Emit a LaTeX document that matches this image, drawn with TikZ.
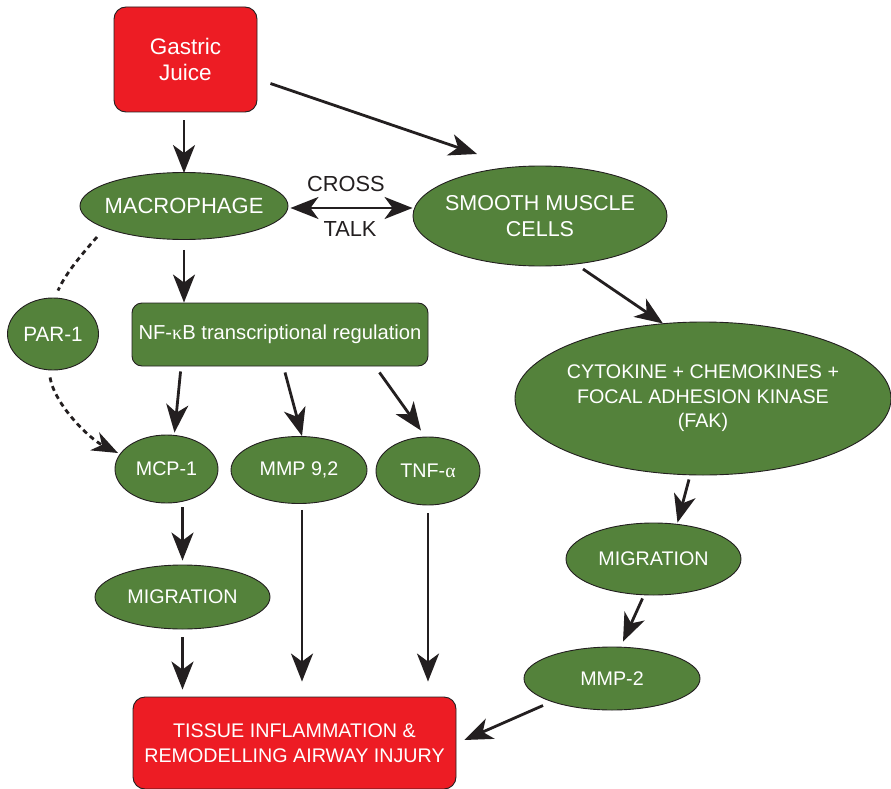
\documentclass[tikz,border=0pt]{standalone}
\usepackage{fontspec}
\setmainfont{Liberation Sans}
\newfontfamily\grk{Liberation Serif}
\usetikzlibrary{arrows.meta,shapes.geometric,calc}
\definecolor{gr}{HTML}{54823B}
\definecolor{rd}{HTML}{ED1C24}
\definecolor{ink}{HTML}{231F20}
\newcommand{\fsz}[1]{\fontsize{#1}{24.5}\selectfont}
\begin{document}
\begin{tikzpicture}[x=1pt,y=-1pt,
  every node/.style={text=white, align=center, font=\fsz{19.7}},
  every label/.style={text=white, align=center, font=\fsz{19.7}},
  ell/.style={ellipse, draw=ink, line width=0.9pt, fill=gr, inner sep=0pt},
  rbox/.style={rectangle, rounded corners=12pt, draw=ink, line width=0.9pt, inner sep=0pt},
  arr/.style={draw=ink, line width=2.8pt, -{Stealth[length=28pt, width=22pt, inset=8pt]}},
  dsh/.style={draw=ink, line width=2.8pt, dash pattern=on 5pt off 4pt},
  plain/.style={text=ink, font=\fsz{21.8}}
]
\useasboundingbox (0,0) rectangle (891,789);

% nodes
\node[rbox, fill=rd, minimum width=143pt, minimum height=105pt, font=\fsz{22.5}, text depth=0pt] (gj) at (185.5,59.5) {Gastric\\[2pt]Juice};
\node[ell, minimum width=208pt, minimum height=67pt, label={[font=\fsz{22}]center:MACROPHAGE}] (mac) at (184,206) {};
\node[ell, minimum width=254pt, minimum height=100pt, label={[font=\fsz{21.5}]center:{SMOOTH MUSCLE\\[1pt]CELLS}}] (smc) at (540,216) {};
\node[plain] (cross) at (346,184) {CROSS};
\node[plain] (talk) at (350,229) {TALK};
\node[ell, minimum width=91pt, minimum height=72pt, label={[font=\fsz{20.7}]center:PAR-1}] (par) at (53,334) {};
\node[rbox, fill=gr, rounded corners=10pt, minimum width=296pt, minimum height=63pt, font=\fsz{20.2}] (nf) at (280,334.5) {NF-{\grk κ}B transcriptional regulation};
\node[ell, minimum width=103pt, minimum height=68pt, label={center:MCP-1}] (mcp) at (166.5,469) {};
\node[ell, minimum width=136pt, minimum height=67pt, label={center:MMP 9,2}] (mmp) at (299,470) {};
\node[ell, minimum width=104pt, minimum height=68pt, label={center:TNF-{\grk α}}] (tnf) at (428,471) {};
\node[ell, minimum width=175pt, minimum height=64pt, label={center:MIGRATION}] (migL) at (182.5,597) {};
\node[rbox, fill=rd, minimum width=323pt, minimum height=92pt] (tis) at (294.5,743) {TISSUE INFLAMMATION \&\\REMODELLING AIRWAY INJURY};
\node[ell, minimum width=376pt, minimum height=153pt, label={center:{CYTOKINE + CHEMOKINES +\\FOCAL ADHESION KINASE\\(FAK)}}] (cyt) at (703,398.5) {};
\node[ell, minimum width=175pt, minimum height=72pt, label={center:MIGRATION}] (migR) at (653.5,559) {};
\node[ell, minimum width=176pt, minimum height=63pt, label={center:MMP-2}] (mmp2) at (612,678.5) {};

% connectors
\draw[arr] ($(gj.south -| mac.north)+(0,8)$) -- ($(mac.north)+(0,1)$);
\draw[arr] ($(gj.east)+(13,24)$) -- ($(smc.center)+(-63,-62)$);
\draw[draw=ink, line width=2.8pt, {Stealth[length=28pt, width=22pt, inset=8pt]}-{Stealth[length=28pt, width=22pt, inset=8pt]}] ($(mac.east)+(2,2)$) -- ($(mac.east -| smc.west)+(0,2)$);
\draw[arr] ($(mac.south)+(0,10)$) -- ($(mac.south |- nf.north)+(0,0)$);
\draw[dsh] ($(mac.center)+(-87,31)$) .. controls +(-14,16) and +(8,-18) .. ($(par.north)+(5,-7)$);
\draw[dsh, -{Stealth[length=26pt, width=20pt, inset=8pt]}] ($(par.south)+(-3,7)$) .. controls +(5,28) and +(-28,-14) .. ($(mcp.center)+(-48.5,-16)$);
\draw[arr] ($(nf.south west)+(49,5)$) -- ($(mcp.north)+(8,-2)$);
\draw[arr] ($(nf.south)+(5,6)$) -- ($(mmp.north)+(3,0)$);
\draw[arr] ($(nf.south east)+(-49,6)$) -- ($(tnf.north)+(-7,-6)$);
\draw[arr] ($(mcp.south -| migL.north)+(0,4)$) -- ($(migL.north)+(0,-4)$);
\draw[arr] ($(migL.south)+(0,8)$) -- ($(migL.south |- tis.north)+(0,-7)$);
\draw[arr] ($(mmp.south)+(3,6)$) -- ($(mmp.south |- tis.north)+(3,-15)$);
\draw[arr] ($(tnf.south)+(0,8)$) -- ($(tnf.south |- tis.north)+(0,-15)$);
\draw[arr] ($(smc.center)+(43,53)$) -- ($(cyt.center)+(-40,-75)$);
\draw[arr] ($(cyt.south)+(-14,4)$) -- ($(migR.north)+(24,0)$);
\draw[arr] ($(migR.south)+(-11,3)$) -- ($(mmp2.north)+(11,-5)$);
\draw[arr] ($(mmp2.center)+(-69,27)$) -- ($(tis.east)+(8,-3)$);
\end{tikzpicture}
\end{document}
